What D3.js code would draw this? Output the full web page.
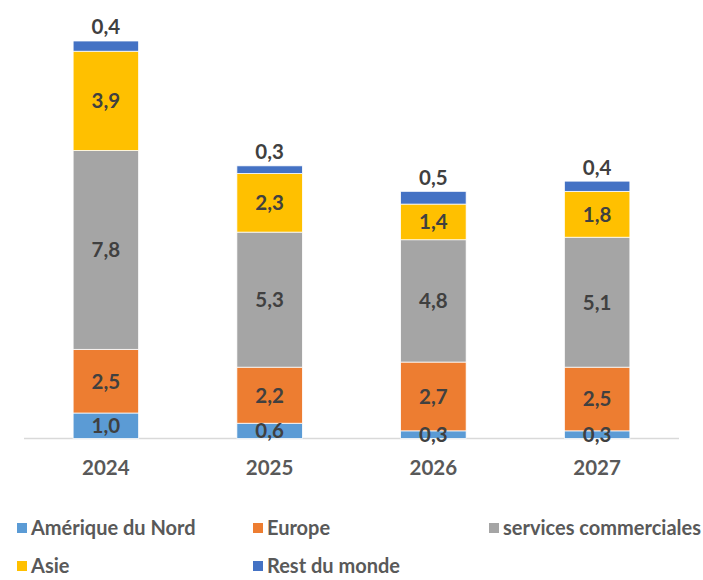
<!DOCTYPE html>
<html>
<head>
<meta charset="utf-8">
<script src="https://cdn.jsdelivr.net/npm/d3@7"></script>
<style>
  body { margin: 0; background: #fff; }
  svg text { font-family: Lato, "Open Sans", sans-serif; font-weight: bold; }
</style>
</head>
<body>
<svg></svg>
<script>
var years = ["2024", "2025", "2026", "2027"];
var seriesNames = ["Amérique du Nord", "Europe", "services commerciales", "Asie", "Rest du monde"];
var ameriqueNord = [1.0, 0.6, 0.3, 0.3];
var europe = [2.5, 2.2, 2.7, 2.5];
var services = [7.8, 5.3, 4.8, 5.1];
var asie = [3.9, 2.3, 1.4, 1.8];
var restMonde = [0.4, 0.3, 0.5, 0.4];
var colors = ["#5B9BD5", "#ED7D31", "#A5A5A5", "#FFC000", "#4472C4"];

window.onload = function () {
    var width = 703, height = 580;
    var svg = d3.select("svg").attr("width", width).attr("height", height);

    var rows = years.map(function (y, i) {
        return {year: y, s0: ameriqueNord[i], s1: europe[i], s2: services[i], s3: asie[i], s4: restMonde[i]};
    });
    var keys = ["s0", "s1", "s2", "s3", "s4"];
    var stacked = d3.stack().keys(keys)(rows);

    var x = d3.scaleBand().domain(years).range([24, 679]).paddingInner(0.6).paddingOuter(0.3);
    var y = d3.scaleLinear().domain([0, 15.6]).range([438.5, 41]);

    // axis line
    svg.append("line")
        .attr("x1", 24).attr("x2", 679)
        .attr("y1", y(0)).attr("y2", y(0))
        .attr("stroke", "#d9d9d9").attr("stroke-width", 1.5);

    var layers = svg.selectAll("g.layer")
        .data(stacked).enter()
        .append("g")
        .attr("class", "layer")
        .attr("fill", function (d, i) { return colors[i]; });

    layers.selectAll("rect")
        .data(function (d) { return d; }).enter()
        .append("rect")
        .attr("x", function (d) { return x(d.data.year); })
        .attr("width", x.bandwidth())
        .attr("y", function (d) { return y(d[1]); })
        .attr("height", function (d) { return y(d[0]) - y(d[1]); })
        .attr("stroke", "#fff")
        .attr("stroke-width", 0.75);

    var fmt = function (v) { return d3.format(".1f")(v).replace(".", ","); };

    // labels
    stacked.forEach(function (layer, li) {
        layer.forEach(function (d) {
            var v = d[1] - d[0];
            var cy = li === 4 ? y(d[1]) - 14 : (y(d[0]) + y(d[1])) / 2;
            svg.append("text")
                .attr("x", x(d.data.year) + x.bandwidth() / 2)
                .attr("y", cy)
                .attr("dy", "0.36em")
                .attr("text-anchor", "middle")
                .attr("font-size", "20.5px")
                .attr("fill", "#404040")
                .text(fmt(v));
        });
    });

    // x labels
    svg.selectAll("text.year")
        .data(years).enter()
        .append("text")
        .attr("class", "year")
        .attr("x", function (d) { return x(d) + x.bandwidth() / 2; })
        .attr("y", 468)
        .attr("dy", "0.36em")
        .attr("text-anchor", "middle")
        .attr("font-size", "20.5px")
        .attr("fill", "#595959")
        .text(function (d) { return d; });

    // legend
    var legendPos = [[17, 528], [253, 528], [489, 528], [17, 566], [253, 566]];
    seriesNames.forEach(function (name, i) {
        var g = svg.append("g")
            .attr("transform", "translate(" + legendPos[i][0] + "," + legendPos[i][1] + ")");
        g.append("rect")
            .attr("x", 0).attr("y", -5)
            .attr("width", 10).attr("height", 10)
            .attr("fill", colors[i]);
        g.append("text")
            .attr("x", 14).attr("y", 0)
            .attr("dy", "0.36em")
            .attr("font-size", "20px")
            .attr("fill", "#595959")
            .text(name);
    });
};
</script>
</body>
</html>
